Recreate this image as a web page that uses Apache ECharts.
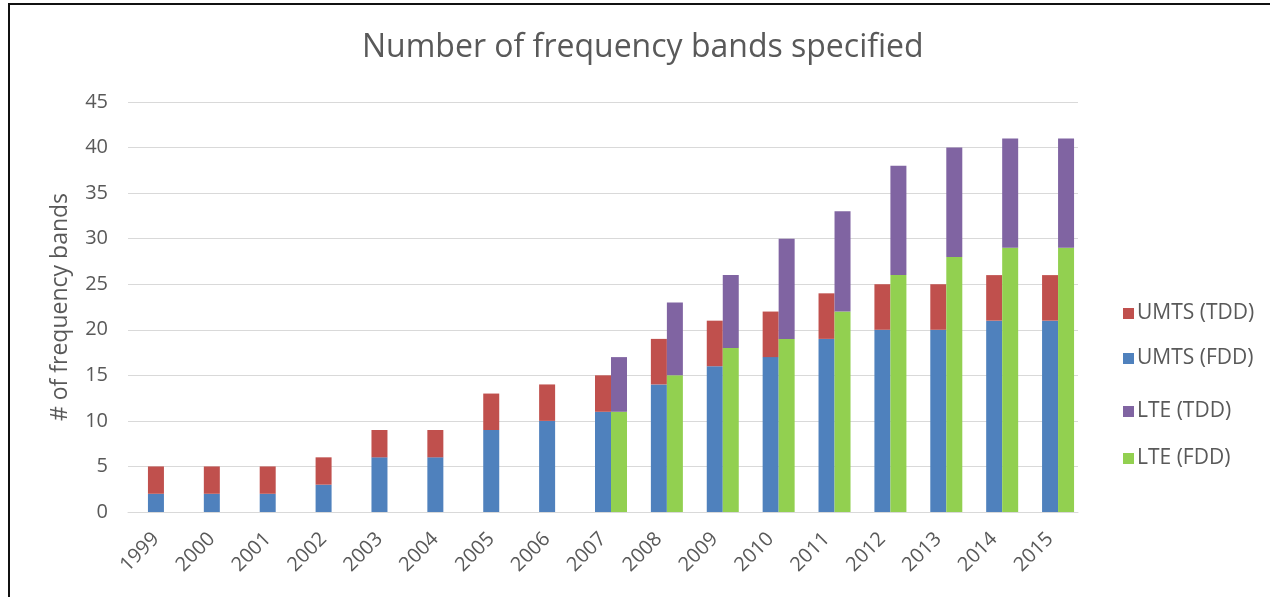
<!DOCTYPE html>
<html>
<head>
<meta charset="utf-8">
<script src="https://cdn.jsdelivr.net/npm/echarts@6/dist/echarts.min.js"></script>
<style>
  html, body { margin: 0; padding: 0; background: #fff; }
  #chart { position: absolute; left: 0; top: 0; width: 1270px; height: 597px; }
  /* the frame of the screenshot: only left and top edges are visible */
  #frame { position: absolute; left: 8px; top: 3px; width: 1262px; height: 594px;
           border-left: 2px solid #111; border-top: 2px solid #111; pointer-events: none; }
</style>
</head>
<body>
<div id="chart"></div>
<div id="frame"></div>
<script>
// years on the x axis
var years = ['1999', '2000', '2001', '2002', '2003', '2004', '2005', '2006', '2007',
             '2008', '2009', '2010', '2011', '2012', '2013', '2014', '2015'];
// UMTS stack
var umtsFdd = [2, 2, 2, 3, 6, 6, 9, 10, 11, 14, 16, 17, 19, 20, 20, 21, 21];
var umtsTdd = [3, 3, 3, 3, 3, 3, 4, 4, 4, 5, 5, 5, 5, 5, 5, 5, 5];
// LTE stack (starts in 2007)
var lteFdd = [null, null, null, null, null, null, null, null, 11, 15, 18, 19, 22, 26, 28, 29, 29];
var lteTdd = [null, null, null, null, null, null, null, null, 6, 8, 8, 11, 11, 12, 12, 12, 12];
// y axis ticks
var yMin = 0, yMax = 45, yStep = 5;

var txt = '#595959';
var font = 'Open Sans';

var myChart = echarts.init(document.getElementById('chart'));

// one legend per entry so the uneven spacing of the original can be kept
function legendAt(name, top) {
    return {
        data: [name],
        left: 1118,
        top: top,
        itemWidth: 11,
        itemHeight: 11,
        icon: 'rect',
        itemGap: 0,
        textStyle: { color: txt, fontSize: 21, fontFamily: font, padding: [0, 0, 0, -2] },
        selectedMode: false
    };
}

var option = {
    backgroundColor: '#fff',
    animation: false,
    title: {
        text: 'Number of frequency bands specified',
        left: 357,
        top: 27,
        textStyle: { color: txt, fontSize: 32, fontWeight: 'normal', fontFamily: font }
    },
    legend: [
        legendAt('UMTS (TDD)', 298),
        legendAt('UMTS (FDD)', 343),
        legendAt('LTE (TDD)', 396),
        legendAt('LTE (FDD)', 443)
    ],
    grid: { left: 128, right: 192, top: 102, bottom: 85 },
    xAxis: {
        type: 'category',
        data: years,
        axisLine: { lineStyle: { color: '#d9d9d9', width: 1 } },
        axisTick: { show: false },
        axisLabel: { rotate: 45, color: txt, fontSize: 20, fontFamily: font, margin: 24 }
    },
    yAxis: {
        type: 'value',
        min: yMin,
        max: yMax,
        interval: yStep,
        name: '# of frequency bands',
        nameLocation: 'middle',
        nameGap: 56,
        nameTextStyle: { color: txt, fontSize: 23, fontFamily: font },
        axisLine: { show: false },
        axisTick: { show: false },
        axisLabel: { color: txt, fontSize: 20, fontFamily: font, margin: 20 },
        splitLine: { lineStyle: { color: '#d9d9d9', width: 1 } }
    },
    series: [
        // empty placeholder stack: shifts the two real stacks to the right as in the original
        { name: 'pad', type: 'bar', stack: 'pad', barWidth: 16, barGap: 0, data: [] },
        { name: 'UMTS (FDD)', type: 'bar', stack: 'umts', barWidth: 16, barGap: 0,
          itemStyle: { color: '#4f81bd' }, data: umtsFdd },
        { name: 'UMTS (TDD)', type: 'bar', stack: 'umts', barWidth: 16, barGap: 0,
          itemStyle: { color: '#c0504d' }, data: umtsTdd },
        { name: 'LTE (FDD)', type: 'bar', stack: 'lte', barWidth: 16, barGap: 0,
          itemStyle: { color: '#92d050' }, data: lteFdd },
        { name: 'LTE (TDD)', type: 'bar', stack: 'lte', barWidth: 16, barGap: 0,
          itemStyle: { color: '#8064a2' }, data: lteTdd }
    ]
};

if (option && typeof option === "object") {
    myChart.setOption(option, true);
}
</script>
</body>
</html>
